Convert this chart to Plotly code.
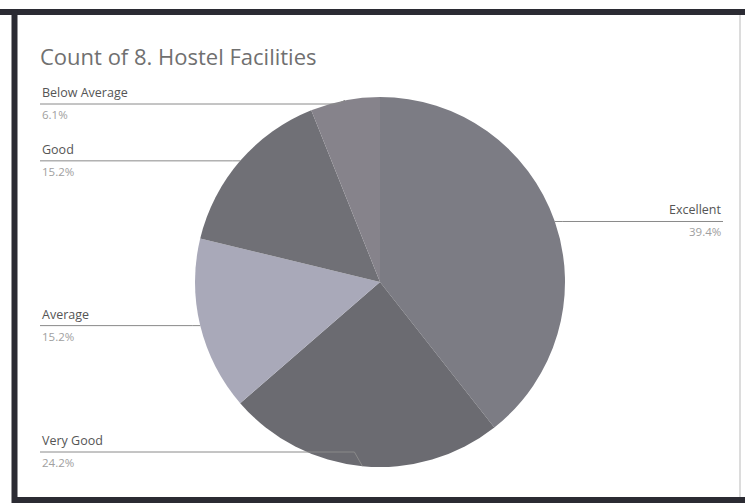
import math
import plotly.graph_objects as go

# ---- data ----
categories = ["Excellent", "Very Good", "Average", "Good", "Below Average"]
counts = [13, 8, 5, 5, 2]
colors = ["#7c7c84", "#6b6b71", "#a9a9b9", "#707076", "#86838b"]
title_text = "Count of 8. Hostel Facilities"

W, H = 745, 503
cx, cy, r = 380, 282, 185  # pie centre/radius in pixels

fig = go.Figure()
fig.add_trace(go.Pie(
    labels=categories, values=counts, sort=False, direction="clockwise",
    rotation=0, marker=dict(colors=colors, line=dict(width=0)),
    textinfo="none", hoverinfo="label+percent+value", showlegend=False,
    domain=dict(x=[(cx - r) / W, (cx + r) / W], y=[1 - (cy + r) / H, 1 - (cy - r) / H]),
))

def px(x):
    return x / W

def py(y):
    return 1 - y / H

shapes = []
annotations = []
total = sum(counts)
cum = 0
for lab, v in zip(categories, counts):
    mid = (cum + v / 2) / total * 2 * math.pi
    cum += v
    sx = cx + r * math.sin(mid)
    sy = cy - r * math.cos(mid)
    ly = min(max(sy, 104), 452)
    right = math.sin(mid) > 0
    pct = f"{v / total * 100:.1f}%"
    if right:
        ex, tx, anchor = sx + 8, 723, "right"
    else:
        ex, tx, anchor = sx - 8, 40, "left"
    shapes.append(dict(type="path", xref="paper", yref="paper",
                       path=f"M {px(sx)} {py(sy)} L {px(ex)} {py(ly)} L {px(tx)} {py(ly)}",
                       line=dict(color="#8a8a8a", width=1)))
    annotations.append(dict(x=px(tx), y=py(ly - 1), xref="paper", yref="paper",
                            text=lab, showarrow=False, xanchor=anchor, yanchor="bottom",
                            font=dict(family="Open Sans", size=12.5, color="#555555")))
    annotations.append(dict(x=px(tx), y=py(ly + 1), xref="paper", yref="paper",
                            text=pct, showarrow=False, xanchor=anchor, yanchor="top",
                            font=dict(family="Open Sans", size=11.5, color="#a0a0a0")))

annotations.append(dict(x=px(38), y=py(56), xref="paper", yref="paper", text=title_text,
                        showarrow=False, xanchor="left", yanchor="middle",
                        font=dict(family="Open Sans", size=22, color="#707070")))

# card frame: dark top/left/bottom, light right edge
frame = "#2b2b33"
shapes.append(dict(type="line", xref="paper", yref="paper", x0=0, x1=1, y0=py(12), y1=py(12),
                   line=dict(color=frame, width=6), layer="below"))
shapes.append(dict(type="line", xref="paper", yref="paper", x0=px(14.5), x1=px(14.5),
                   y0=py(9), y1=py(503), line=dict(color=frame, width=6), layer="below"))
shapes.append(dict(type="line", xref="paper", yref="paper", x0=px(12), x1=1, y0=py(500), y1=py(500),
                   line=dict(color=frame, width=6), layer="below"))
shapes.append(dict(type="line", xref="paper", yref="paper", x0=px(740), x1=px(740),
                   y0=py(15), y1=py(497), line=dict(color="#d0d0d0", width=1.5), layer="below"))

fig.update_layout(width=W, height=H, margin=dict(l=0, r=0, t=0, b=0),
                  paper_bgcolor="white", plot_bgcolor="white",
                  shapes=shapes, annotations=annotations)
fig.write_html("out.html", config={"displayModeBar": False},
               post_script="document.body.style.margin='0';document.body.style.overflow='hidden';")
